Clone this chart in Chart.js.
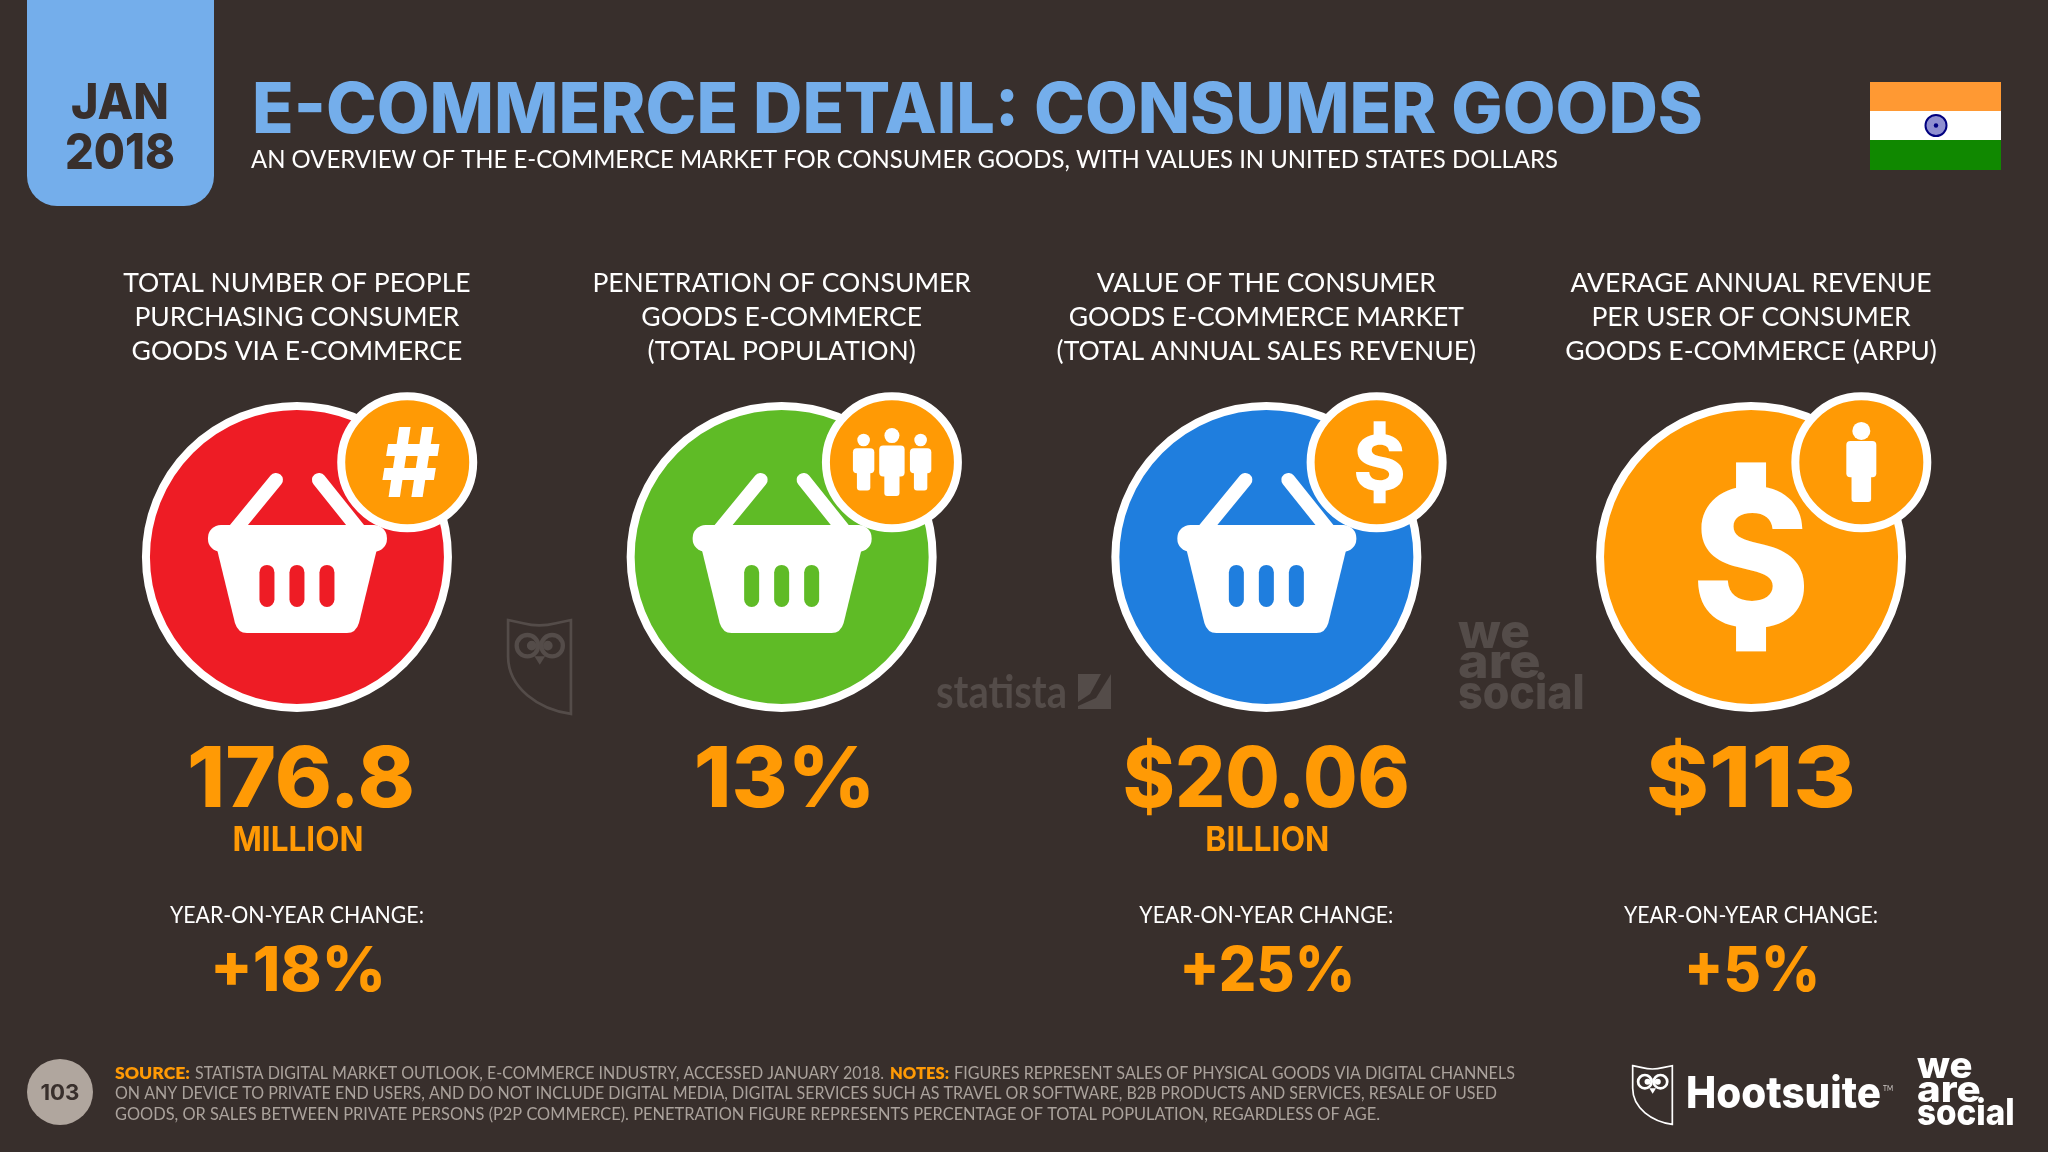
<!DOCTYPE html>
<html>
<head>
<meta charset="utf-8">
<title>E-commerce detail: consumer goods</title>
<script src="https://cdn.jsdelivr.net/npm/chart.js@4"></script>
<style>
  html, body { margin: 0; padding: 0; background: #382f2c; }
  canvas { display: block; }
</style>
</head>
<body>
<canvas id="myChart" width="2048" height="1152"></canvas>
<script>
// datos del grafico
const categories = [
    ["TOTAL NUMBER OF PEOPLE", "PURCHASING CONSUMER", "GOODS VIA E-COMMERCE"],
    ["PENETRATION OF CONSUMER", "GOODS E-COMMERCE", "(TOTAL POPULATION)"],
    ["VALUE OF THE CONSUMER", "GOODS E-COMMERCE MARKET", "(TOTAL ANNUAL SALES REVENUE)"],
    ["AVERAGE ANNUAL REVENUE", "PER USER OF CONSUMER", "GOODS E-COMMERCE (ARPU)"]
]
const mainValues = ["176.8", "13%", "$20.06", "$113"]
const units = ["MILLION", "", "BILLION", ""]
const changeLabel = "YEAR-ON-YEAR CHANGE:"
const changes = ["+18%", "", "+25%", "+5%"]
const circleColors = ["#ee1c25", "#5fbb26", "#1f7ede", "#ff9a05"]
const badgeColor = "#ff9a05"
const titleText = "E-COMMERCE DETAIL: CONSUMER GOODS"
const subtitleText = "AN OVERVIEW OF THE E-COMMERCE MARKET FOR CONSUMER GOODS, WITH VALUES IN UNITED STATES DOLLARS"
const footerSource = "STATISTA DIGITAL MARKET OUTLOOK, E-COMMERCE INDUSTRY, ACCESSED JANUARY 2018."
const footerNotes = "FIGURES REPRESENT SALES OF PHYSICAL GOODS VIA DIGITAL CHANNELS"
const footerLine2 = "ON ANY DEVICE TO PRIVATE END USERS, AND DO NOT INCLUDE DIGITAL MEDIA, DIGITAL SERVICES SUCH AS TRAVEL OR SOFTWARE, B2B PRODUCTS AND SERVICES, RESALE OF USED"
const footerLine3 = "GOODS, OR SALES BETWEEN PRIVATE PERSONS (P2P COMMERCE). PENETRATION FIGURE REPRESENTS PERCENTAGE OF TOTAL POPULATION, REGARDLESS OF AGE."

// medidas de la lamina
const bg = "#382f2c"
const white = "#ffffff"
const orange = "#ff9a05"
const mark = "#544c49"
const bold = '"Inter"'
const thin = '"Lato"'
const valueWidths = [228, 182, 287, 210]
const valueShift = [4, 3, 0, 0]
const unitWidths = [131, 0, 124, 0]
const changeWidths = [176, 0, 176, 136]
const circleY = 0.761
const badgeY = 0.882
const badgeDx = 0.2275

function txt(ctx, s, x, y, font, color, w, align) {
    ctx.save()
    ctx.font = font
    ctx.fillStyle = color
    ctx.textBaseline = "alphabetic"
    ctx.textAlign = align || "center"
    const k = w ? w / ctx.measureText(s).width : 1
    ctx.translate(x, y)
    ctx.scale(k, 1)
    ctx.fillText(s, 0, 0)
    ctx.restore()
}

// ajusta un glifo a una caja (para S y #)
function glyph(ctx, s, cx, top, bottom, w, font, color) {
    ctx.save()
    ctx.font = font
    ctx.fillStyle = color
    ctx.textAlign = "left"
    ctx.textBaseline = "alphabetic"
    const m = ctx.measureText(s)
    const gw = m.actualBoundingBoxRight + m.actualBoundingBoxLeft
    const gh = m.actualBoundingBoxAscent + m.actualBoundingBoxDescent
    ctx.translate(cx - w / 2, top)
    ctx.scale(w / gw, (bottom - top) / gh)
    ctx.fillText(s, m.actualBoundingBoxLeft, m.actualBoundingBoxAscent)
    ctx.restore()
}

// signo peso: una S con dos trazos cortos arriba y abajo
function dollar(ctx, cx, cy, halfH, w, stubW, stubH) {
    ctx.fillStyle = white
    ctx.fillRect(cx - stubW / 2, cy - halfH, stubW, stubH + 4)
    ctx.fillRect(cx - stubW / 2, cy + halfH - stubH - 4, stubW, stubH + 4)
    glyph(ctx, "S", cx, cy - halfH + stubH, cy + halfH - stubH, w, "800 200px " + bold, white)
}

function pill(ctx, x, y, w, h, r, color) {
    ctx.fillStyle = color
    ctx.beginPath()
    ctx.roundRect(x, y, w, h, r)
    ctx.fill()
}

function basket(ctx, cx, cy, color) {
    ctx.save()
    ctx.translate(cx, cy)
    ctx.strokeStyle = white
    ctx.lineWidth = 14
    ctx.lineCap = "round"
    ctx.beginPath()
    ctx.moveTo(-21, -77)
    ctx.lineTo(-62, -27)
    ctx.moveTo(22, -77)
    ctx.lineTo(62, -27)
    ctx.stroke()
    pill(ctx, -89, -32, 179, 27, 13, white)
    ctx.fillStyle = white
    ctx.beginPath()
    ctx.moveTo(-80, -8)
    ctx.lineTo(80, -8)
    ctx.lineTo(62, 66)
    ctx.quadraticCurveTo(59, 76, 50, 76)
    ctx.lineTo(-50, 76)
    ctx.quadraticCurveTo(-59, 76, -62, 66)
    ctx.closePath()
    ctx.fill()
    for (const dx of [-30, 0, 30]) {
        pill(ctx, dx - 7.5, 8, 15, 42, 7.5, color)
    }
    ctx.restore()
}

function person(ctx, cx, headY, headR, halfTorso, top, torsoEnd, halfLeg, end) {
    ctx.fillStyle = white
    ctx.beginPath()
    ctx.arc(cx, headY, headR, 0, Math.PI * 2)
    ctx.fill()
    pill(ctx, cx - halfTorso, top, halfTorso * 2, torsoEnd - top, 4, white)
    pill(ctx, cx - halfLeg, top + 6, halfLeg * 2, end - top - 6, 3, white)
}

function badgeIcon(ctx, i, x, y) {
    if (i === 0) {
        glyph(ctx, "#", x + 3.5, y - 35, y + 35, 58, "800 100px " + bold, white)
    } else if (i === 1) {
        person(ctx, x - 28.3, y - 22.3, 6.3, 10.7, y - 14, y + 11, 6.7, y + 28.3)
        person(ctx, x + 28.7, y - 22.3, 6.3, 10.7, y - 14, y + 11, 6.7, y + 28.3)
        person(ctx, x, y - 26.7, 7.5, 12.7, y - 16.7, y + 14.3, 7.6, y + 33.7)
    } else if (i === 2) {
        dollar(ctx, x + 3, y, 41, 47, 12, 13)
    } else {
        person(ctx, x, y - 31.3, 9, 15, y - 21.3, y + 15, 9.8, y + 39.7)
    }
}

function owl(ctx, x, y, w, h, color) {
    ctx.save()
    ctx.translate(x, y)
    ctx.scale(w / 121, h / 180)
    ctx.strokeStyle = color
    ctx.lineWidth = 5
    ctx.beginPath()
    ctx.moveTo(2, 2)
    ctx.lineTo(30, 8)
    ctx.quadraticCurveTo(60, 16, 91, 8)
    ctx.lineTo(119, 2)
    ctx.lineTo(119, 178)
    ctx.bezierCurveTo(60, 170, 2, 130, 2, 70)
    ctx.closePath()
    ctx.stroke()
    ctx.lineWidth = 8
    for (const ex of [38, 84]) {
        ctx.beginPath()
        ctx.arc(ex, 50, 20, 0, Math.PI * 2)
        ctx.stroke()
    }
    ctx.fillStyle = color
    ctx.beginPath()
    ctx.arc(46, 50, 9, 0, Math.PI * 2)
    ctx.arc(76, 50, 9, 0, Math.PI * 2)
    ctx.fill()
    ctx.beginPath()
    ctx.moveTo(51, 70)
    ctx.lineTo(71, 70)
    ctx.lineTo(61, 86)
    ctx.closePath()
    ctx.fill()
    ctx.restore()
}

function weAreSocial(ctx, x, bases, size, color) {
    const font = "800 " + size + "px " + bold
    txt(ctx, "we", x, bases[0], font, color, size * 1.5, "left")
    txt(ctx, "are", x, bases[1], font, color, size * 1.72, "left")
    txt(ctx, "social", x, bases[2], font, color, size * 2.64, "left")
}

function drawSlide(ctx) {
    // pestaña de la fecha
    ctx.fillStyle = "#74aeeb"
    ctx.beginPath()
    ctx.roundRect(27, -40, 187, 246, 30)
    ctx.fill()
    txt(ctx, "JAN", 120, 119, "800 50px " + bold, bg, 98)
    txt(ctx, "2018", 120, 169, "800 50px " + bold, bg, 110)

    txt(ctx, titleText, 252, 133, "800 70px " + bold, "#74aeeb", 1451, "left")
    txt(ctx, subtitleText, 251, 168, "400 25px " + thin, white, 1307, "left")

    // bandera
    ctx.fillStyle = "#ff9933"
    ctx.fillRect(1870, 82, 131, 29)
    ctx.fillStyle = white
    ctx.fillRect(1870, 111, 131, 29)
    ctx.fillStyle = "#108800"
    ctx.fillRect(1870, 140, 131, 30)
    ctx.fillStyle = "#8f8fd0"
    ctx.beginPath()
    ctx.arc(1936, 125.5, 10, 0, Math.PI * 2)
    ctx.fill()
    ctx.strokeStyle = "#000080"
    ctx.lineWidth = 2
    ctx.beginPath()
    ctx.arc(1936, 125.5, 10.5, 0, Math.PI * 2)
    ctx.stroke()
    ctx.fillStyle = "#000080"
    ctx.beginPath()
    ctx.arc(1936, 125.5, 2.2, 0, Math.PI * 2)
    ctx.fill()

    // marcas de agua
    owl(ctx, 507, 619, 65, 96, mark)
    txt(ctx, "statista", 936, 708, "700 46px " + thin, mark, 131, "left")
    ctx.fillStyle = mark
    ctx.fillRect(1078, 674, 33, 35)
    ctx.fillStyle = bg
    ctx.beginPath()
    ctx.moveTo(1111, 674)
    ctx.lineTo(1101, 674)
    ctx.lineTo(1090, 694)
    ctx.lineTo(1078, 702)
    ctx.lineTo(1078, 706)
    ctx.lineTo(1096, 698)
    ctx.closePath()
    ctx.fill()
    weAreSocial(ctx, 1458, [648, 678, 709], 48, mark)

    // pie
    ctx.fillStyle = "#b0a69e"
    ctx.beginPath()
    ctx.arc(60, 1092, 33, 0, Math.PI * 2)
    ctx.fill()
    txt(ctx, "103", 60, 1100, "700 21px " + bold, bg, 39)
    const small = "400 17.5px " + thin
    const smallBold = "800 17.5px " + thin
    const grey = "#aaa29c"
    txt(ctx, "SOURCE:", 115, 1079, smallBold, orange, 75, "left")
    txt(ctx, footerSource, 195, 1079, small, grey, 689, "left")
    txt(ctx, "NOTES:", 890, 1079, smallBold, orange, 59, "left")
    txt(ctx, footerNotes, 954, 1079, small, grey, 561, "left")
    txt(ctx, footerLine2, 115, 1099, small, grey, 1382, "left")
    txt(ctx, footerLine3, 115, 1120, small, grey, 1265, "left")

    // logos
    owl(ctx, 1632, 1065, 41, 60, white)
    txt(ctx, "Hootsuite", 1686, 1108, "800 44px " + bold, white, 195, "left")
    txt(ctx, "TM", 1883, 1091, "400 8px " + thin, "#cfcac7", 10, "left")
    weAreSocial(ctx, 1917, [1078, 1102, 1125], 37, white)
}

const slidePlugin = {
    id: "slide",
    beforeDatasetsDraw(chart) {
        drawSlide(chart.ctx)
    },
    afterDatasetDraw(chart, args) {
        const ctx = chart.ctx
        args.meta.data.forEach((pt, i) => {
            if (args.index === 0) {
                if (i === 3) {
                    // el cuarto circulo lleva un $ en vez de la canasta
                    dollar(ctx, pt.x, pt.y, 94.5, 106, 30, 24)
                } else {
                    basket(ctx, pt.x, pt.y, circleColors[i])
                }
            } else {
                badgeIcon(ctx, i, pt.x, pt.y)
            }
        })
    },
    afterDatasetsDraw(chart) {
        const ctx = chart.ctx
        chart.getDatasetMeta(0).data.forEach((pt, i) => {
            txt(ctx, mainValues[i], pt.x + valueShift[i], 807, "800 84px " + bold, orange, valueWidths[i])
            if (units[i]) {
                txt(ctx, units[i], pt.x + 1, 851, "700 34px " + bold, orange, unitWidths[i])
            }
            if (changes[i]) {
                txt(ctx, changeLabel, pt.x, 923, "400 24px " + thin, white, 254)
                txt(ctx, changes[i], pt.x + 1, 991, "800 62px " + bold, orange, changeWidths[i])
            }
        })
    }
}

const config = {
    type: "scatter",
    data: {
        labels: categories,
        datasets: [
            {
                data: categories.map((c, i) => ({ x: i, y: circleY })),
                backgroundColor: circleColors,
                borderColor: white,
                borderWidth: 8,
                pointRadius: 151,
                pointHoverRadius: 151,
                clip: false,
                order: 2
            },
            {
                xAxisID: "xBadge",
                data: categories.map((c, i) => ({ x: i + badgeDx, y: badgeY })),
                backgroundColor: badgeColor,
                borderColor: white,
                borderWidth: 8,
                pointRadius: 66,
                pointHoverRadius: 66,
                clip: false,
                order: 1
            }
        ]
    },
    options: {
        responsive: false,
        animation: false,
        devicePixelRatio: 1,
        layout: { autoPadding: false, padding: { left: 54.6, right: 54.6, top: 0, bottom: 0 } },
        plugins: { legend: { display: false }, tooltip: { enabled: false }, title: { display: false } },
        scales: {
            x: {
                type: "category",
                position: "top",
                offset: true,
                afterFit: (scale) => { scale.height = 370 },
                grid: { display: false, drawTicks: false },
                border: { display: false },
                ticks: {
                    color: white,
                    autoSkip: false,
                    maxRotation: 0,
                    padding: 2,
                    font: { family: "Lato", size: 26.5, lineHeight: 34 / 26.5 }
                }
            },
            xBadge: { type: "linear", min: -0.5, max: 3.5, display: false },
            y: { type: "linear", min: 0, max: 1, display: false }
        }
    },
    plugins: [slidePlugin]
}

const myChart = new Chart(document.querySelector("#myChart"), config)
</script>
</body>
</html>
